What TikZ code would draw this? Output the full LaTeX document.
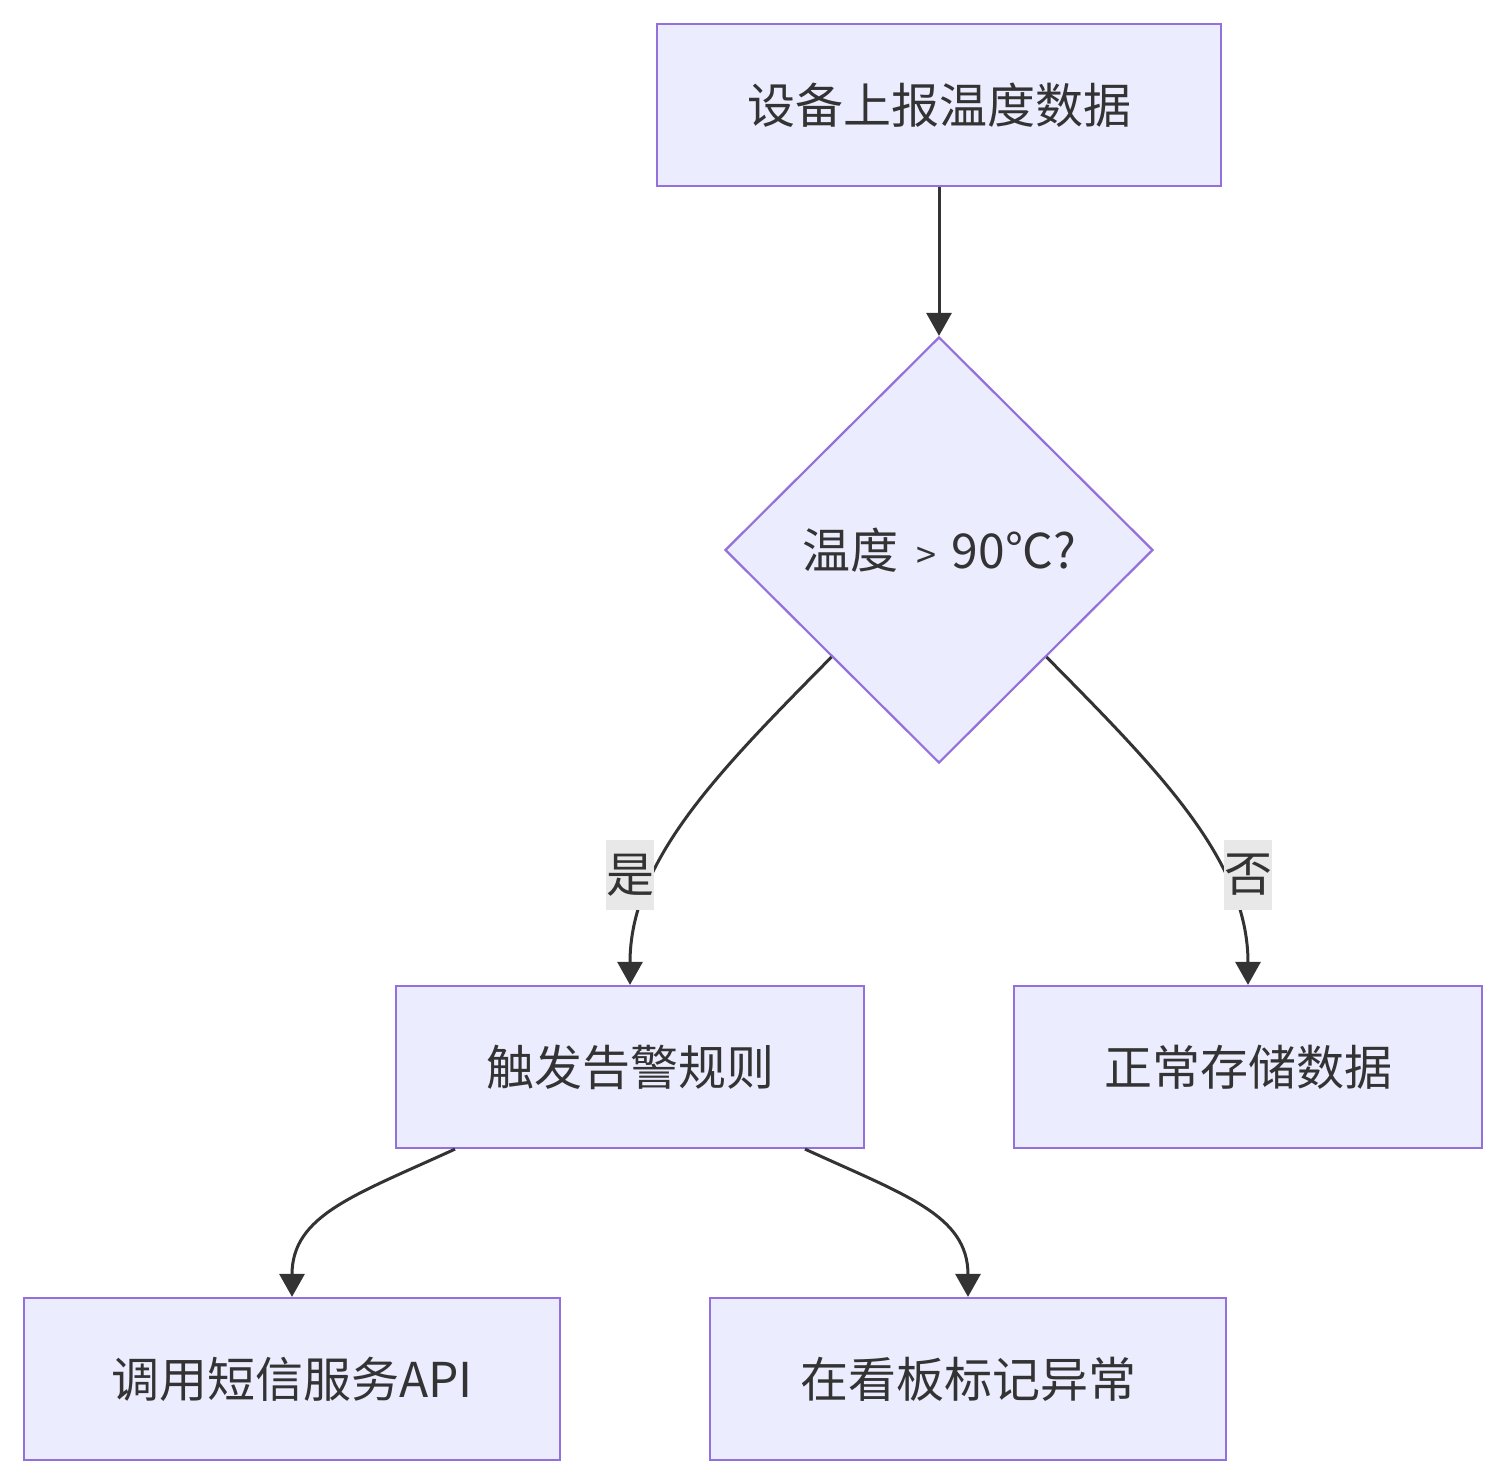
\documentclass[tikz,border=0pt]{standalone}
\usepackage{fontspec}
\setmainfont{Noto Sans CJK SC}
\usetikzlibrary{shapes.geometric,arrows.meta}
\definecolor{nodefill}{HTML}{ECECFF}
\definecolor{nodeline}{HTML}{9370DB}
\definecolor{ink}{HTML}{333333}
\definecolor{lblbg}{HTML}{E8E8E8}
\tikzset{
  box/.style={draw=nodeline, fill=nodefill, line width=1.1pt, inner sep=0pt,
    minimum height=81pt, text=ink, font=\fontsize{24}{28}\selectfont},
  decision/.style={diamond, draw=nodeline, fill=nodefill, line width=1.1pt, inner sep=0pt,
    minimum width=214pt, minimum height=213pt, text=ink, font=\fontsize{24}{28}\selectfont},
  edge/.style={draw=ink, line width=1.5pt, -{Triangle[width=12.5pt,length=11.5pt]}},
  lbl/.style={fill=lblbg, inner sep=0pt, minimum width=24pt, minimum height=35pt,
    text=ink, font=\fontsize{24}{28}\selectfont}
}
\begin{document}
\begin{tikzpicture}[x=0.5pt,y=-0.5pt]
\useasboundingbox (0,0) rectangle (1506,1484);
\node[box, minimum width=282pt] (n1) at (939,105) {设备上报温度数据};
\node[decision] (d) at (939,550) {温度\hspace{9pt}{\fontsize{18}{20}\selectfont >}\hspace{8pt}90℃?};
\node[box, minimum width=234pt] (n2) at (630,1067) {触发告警规则};
\node[box, minimum width=234pt] (n3) at (1248,1067) {正常存储数据};
\node[box, minimum width=268pt] (n4) at (292,1379) {调用短信服务API};
\node[box, minimum width=258pt] (n5) at (968,1379) {在看板标记异常};

\draw[edge] (n1.south) -- (d.north);
\draw[edge] (d.south west) .. controls (720,770) and (630,860) .. (n2.north);
\draw[edge] (d.south east) .. controls (1158,770) and (1248,860) .. (n3.north);
\draw[edge] ([xshift=-87.5pt]n2.south) .. controls (355,1195) and (292,1215) .. (n4.north);
\draw[edge] ([xshift=87.5pt]n2.south) .. controls (905,1195) and (968,1215) .. (n5.north);

\node[lbl] (l1) at (630,875) {是};
\node[lbl] (l2) at (1248,875) {否};
\end{tikzpicture}
\end{document}
